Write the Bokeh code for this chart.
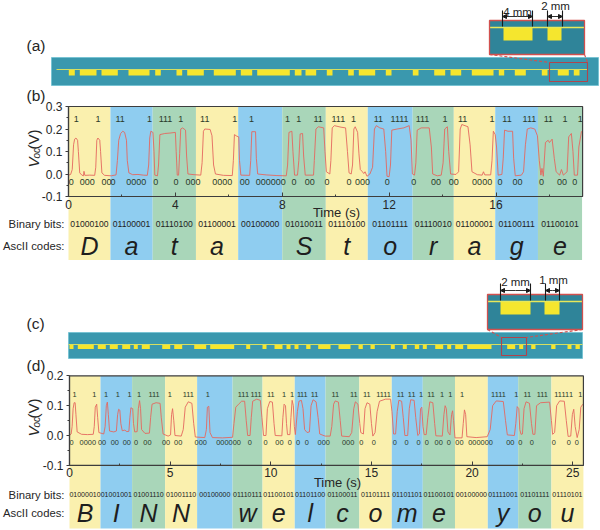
from math import pi
from bokeh.plotting import figure
from bokeh.embed import file_html
from bokeh.resources import INLINE
from bokeh.core.properties import value
from bokeh.models import Range1d, LinearAxis, FixedTicker, Arrow, NormalHead

# ---------- panel (b) data ----------
bands_b = [0, 1.57, 3.15, 4.77, 6.35, 8.0, 9.63, 11.2, 12.88, 14.42, 15.97, 17.57, 19.22]
letters_b = ["D", "a", "t", "a", "", "S", "t", "o", "r", "a", "g", "e"]
bits_b = ["01000100", "01100001", "01110100", "01100001", "00100000", "01010011",
          "01110100", "01101111", "01110010", "01100001", "01100111", "01100101"]
ones_b = [("1", .29), ("1", 1.1), ("11", 1.93), ("1", 3.03), ("111", 3.63), ("1", 4.2), ("11", 5.1),
          ("1", 6.22), ("1", 6.85), ("1", 8.2), ("1", 8.62), ("11", 9.34), ("111", 10.1), ("1", 10.67),
          ("11", 11.6), ("1111", 12.39), ("111", 13.25), ("1", 14.09), ("11", 14.75), ("1", 15.85),
          ("11", 16.41), ("111", 17.25), ("11", 17.96), ("1", 18.58), ("1", 19.15)]
zeros_b = [("0", .1), ("000", .7), ("00", 1.42), ("0", 1.67), ("0000", 2.54), ("0", 3.27), ("0", 4.02),
           ("000", 4.66), ("0000", 5.75), ("00", 6.6), ("000000", 7.57), ("0", 8.44), ("00", 9.03),
           ("0", 9.67), ("0", 10.5), ("000", 11.0), ("0", 11.93), ("0", 12.92), ("00", 13.75),
           ("00", 14.42), ("0000", 15.48), ("0", 16.15), ("00", 16.8), ("0", 17.7), ("00", 18.47), ("0", 18.95)]
trace_b = [(0, -.005), (.08, -.002), (.14, .02), (.19, .13), (.23, .155), (.28, .16), (.34, .15), (.37, .1), (.42, .005),
           (.5, -.005), (.56, -.008), (.58, .012), (.61, -.006), (.8, -.005), (.98, -.006), (1.02, .03), (1.06, .15),
           (1.1, .16), (1.17, .15), (1.2, .1), (1.25, .005), (1.35, -.006), (1.6, -.008), (1.78, -.004), (1.83, .06),
           (1.88, .15), (1.95, .18), (2.03, .19), (2.1, .185), (2.17, .15), (2.2, .06), (2.26, .005), (2.4, -.003),
           (2.6, -.002), (2.8, -.005), (2.95, -.006), (3.0, .04), (3.04, .16), (3.08, .19), (3.16, .185), (3.2, .1),
           (3.23, -.005), (3.33, -.008), (3.37, .04), (3.42, .175), (3.6, .18), (3.8, .182), (4.0, .185), (4.03, .1),
           (4.07, -.005), (4.12, -.005), (4.16, .09), (4.2, .2), (4.27, .205), (4.38, .195), (4.42, .08), (4.47, 0),
           (4.7, -.003), (4.95, -.005), (5.0, .05), (5.05, .19), (5.1, .2), (5.3, .198), (5.37, .17), (5.43, .04),
           (5.5, 0), (5.8, -.006), (6.13, -.007), (6.17, .06), (6.21, .175), (6.3, .168), (6.37, .165), (6.4, .06),
           (6.45, -.005), (6.78, -.006), (6.82, .06), (6.86, .188), (7.0, .188), (7.03, .07), (7.08, 0), (7.4, -.004),
           (7.8, -.007), (8.15, -.008), (8.2, .04), (8.25, .185), (8.36, .19), (8.4, .1), (8.46, -.005), (8.57, -.005),
           (8.62, .06), (8.67, .178), (8.76, .18), (8.8, .08), (8.86, -.005), (9.17, -.005), (9.2, .06), (9.26, .2),
           (9.35, .21), (9.55, .205), (9.6, .1), (9.65, .01), (9.78, .0), (9.82, .06), (9.87, .205), (9.95, .215),
           (10.2, .208), (10.37, .205), (10.44, .1), (10.5, .005), (10.58, .0), (10.63, .04), (10.68, .2), (10.73, .21),
           (10.82, .185), (10.87, .09), (10.92, .02), (11.0, .01), (11.05, .002), (11.1, .01), (11.17, -.01), (11.28, 0),
           (11.38, .03), (11.45, .2), (11.52, .215), (11.65, .205), (11.8, .2), (11.87, .1), (11.92, -.01), (12.0, -.012),
           (12.05, .04), (12.1, .195), (12.3, .2), (12.55, .205), (12.75, .215), (12.82, .15), (12.87, .0), (12.95, -.005),
           (13.0, .05), (13.05, .195), (13.2, .205), (13.5, .205), (13.58, .12), (13.63, .0), (13.8, -.008), (13.95, -.005),
           (14.02, .05), (14.08, .2), (14.18, .21), (14.23, .1), (14.3, 0), (14.5, -.002), (14.6, .01), (14.66, .2),
           (14.72, .22), (14.95, .21), (15.03, .13), (15.1, .01), (15.3, -.003), (15.48, -.005), (15.53, .01), (15.58, -.004),
           (15.8, -.004), (15.85, .06), (15.9, .19), (15.97, .175), (16.02, .12), (16.08, -.005), (16.22, -.002), (16.27, .07),
           (16.32, .195), (16.45, .19), (16.62, .19), (16.66, .07), (16.72, -.008), (16.95, -.005), (17.03, .01), (17.1, .13),
           (17.17, .2), (17.3, .205), (17.45, .2), (17.55, .17), (17.62, .06), (17.68, -.005), (17.72, .025), (17.77, -.01),
           (17.85, .14), (17.95, .15), (18.0, .14), (18.1, .155), (18.18, .07), (18.25, .01), (18.38, -.005), (18.45, .02),
           (18.52, -.005), (18.66, .01), (18.72, .165), (18.82, .18), (18.88, .1), (18.93, -.005), (19.05, -.005), (19.1, .12),
           (19.2, .19)]

# ---------- panel (d) data ----------
bands_d = [0, 1.54, 3.11, 4.75, 6.34, 8.1, 9.59, 11.19, 12.72, 14.4, 16.01, 17.55, 19.15, 20.78, 22.29, 23.94, 25.53]
letters_d = ["B", "I", "N", "N", "", "w", "e", "l", "c", "o", "m", "e", "", "y", "o", "u"]
bits_d = ["01000010", "01001001", "01001110", "01001110", "00100000", "01110111", "01100101", "01101100",
          "01100011", "01101111", "01101101", "01100101", "00100000", "01111001", "01101111", "01110101"]
ones_d = [("1", .25), ("1", 1.23), ("1", 1.82), ("1", 2.4), ("1", 2.98), ("1", 3.45), ("111", 4.2), ("1", 4.98),
          ("111", 5.9), ("1", 6.87), ("111", 8.64), ("111", 9.27), ("11", 10.0), ("1", 10.66), ("1", 11.06),
          ("1", 11.4), ("11", 11.64), ("11", 12.17), ("11", 13.2), ("11", 14.12), ("11", 14.77), ("1111", 15.6),
          ("11", 16.45), ("11", 17.0), ("1", 17.47), ("11", 17.96), ("1", 18.51), ("1", 18.92), ("1", 19.5),
          ("1111", 21.31), ("1", 22.2), ("11", 22.74), ("111", 23.49), ("1111", 24.45), ("1", 24.92), ("1", 25.38)]
zeros_d = [("0", .1), ("0000", .91), ("00", 1.62), ("00", 2.25), ("00", 2.85), ("0", 3.31), ("00", 3.87),
           ("00", 4.8), ("00", 5.4), ("000", 6.52), ("000000", 7.9), ("0", 8.96), ("0", 9.74), ("00", 10.43),
           ("0", 10.95), ("0", 11.36), ("0", 11.79), ("000", 12.63), ("000", 13.84), ("0", 14.5), ("0", 15.12),
           ("0", 16.16), ("0", 16.74), ("0", 17.34), ("0", 17.75), ("00", 18.34), ("0", 18.84), ("00", 19.37),
           ("000000", 20.42), ("00", 21.9), ("0", 22.4), ("0", 22.96), ("0", 24.06), ("0", 24.8), ("0", 25.2)]
trace_d = [(0, 0), (.08, .005), (.13, .03), (.18, .09), (.23, .11), (.28, .11), (.32, .07), (.38, .012), (.6, .004),
           (.9, .003), (1.18, .004), (1.23, .03), (1.28, .095), (1.35, .105), (1.4, .06), (1.46, .01), (1.7, .005),
           (1.77, .03), (1.83, .1), (1.88, .112), (1.93, .07), (1.99, .015), (2.2, .012), (2.33, .015), (2.39, .07),
           (2.44, .088), (2.5, .085), (2.55, .04), (2.62, .016), (2.75, .018), (2.85, .013), (2.95, .014), (3.0, .06),
           (3.05, .093), (3.14, .09), (3.18, .04), (3.24, .012), (3.36, .013), (3.42, .09), (3.48, .117), (3.53, .09),
           (3.58, .02), (3.75, .007), (3.97, .008), (4.03, .06), (4.1, .105), (4.3, .11), (4.5, .108), (4.56, .06),
           (4.65, .005), (4.9, -.002), (5.02, .002), (5.07, .07), (5.12, .09), (5.18, .05), (5.24, 0), (5.55, -.002),
           (5.65, .02), (5.75, .095), (5.9, .113), (6.08, .108), (6.17, .04), (6.25, -.005), (6.72, -.007), (6.8, .02),
           (6.85, .095), (6.92, .098), (6.98, .01), (7.1, -.007), (7.6, -.008), (8.1, -.006), (8.17, .04), (8.26, .095),
           (8.4, .105), (8.55, .115), (8.7, .115), (8.78, .05), (8.85, .0), (8.97, .0), (9.03, .06), (9.1, .115),
           (9.3, .122), (9.48, .118), (9.56, .06), (9.64, .0), (9.76, .0), (9.83, .09), (9.95, .114), (10.08, .112),
           (10.16, .04), (10.22, 0), (10.55, -.001), (10.6, .06), (10.66, .105), (10.73, .1), (10.78, .04), (10.83, .003),
           (10.95, .003), (11.0, .06), (11.06, .118), (11.12, .1), (11.17, .03), (11.22, .003), (11.32, .08), (11.4, .115),
           (11.52, .118), (11.6, .09), (11.68, .02), (11.8, .01), (11.92, .012), (12.0, .1), (12.1, .12), (12.25, .113),
           (12.35, .06), (12.43, .005), (12.7, -.002), (12.95, -.002), (13.03, .03), (13.12, .105), (13.2, .116), (13.36, .112),
           (13.45, .05), (13.52, -.002), (13.9, -.004), (14.02, .01), (14.12, .09), (14.2, .113), (14.33, .105), (14.42, .04),
           (14.47, .01), (14.6, .005), (14.68, .09), (14.78, .11), (14.92, .105), (15.0, .04), (15.07, -.002), (15.18, .01),
           (15.28, .08), (15.4, .115), (15.7, .122), (15.95, .122), (16.02, .08), (16.1, .005), (16.2, .005), (16.28, .08),
           (16.36, .118), (16.5, .115), (16.58, .06), (16.66, .0), (16.8, .0), (16.88, .09), (16.95, .12), (17.12, .118),
           (17.2, .06), (17.3, 0), (17.38, .005), (17.44, .09), (17.5, .095), (17.56, .03), (17.62, .003), (17.72, .003),
           (17.8, .06), (17.9, .113), (18.05, .11), (18.14, .04), (18.2, -.001), (18.52, -.002), (18.6, .07), (18.66, .1),
           (18.72, .09), (18.8, .012), (18.9, .002), (18.98, .07), (19.03, .083), (19.08, .05), (19.15, -.008), (19.5, -.008),
           (19.56, .04), (19.62, .086), (19.68, .07), (19.74, -.004), (20.2, -.007), (20.75, -.004), (20.9, .02), (21.02, .1),
           (21.2, .116), (21.55, .114), (21.66, .05), (21.75, .002), (22.1, 0), (22.17, .04), (22.24, .097), (22.32, .09),
           (22.37, .02), (22.43, .004), (22.5, .005), (22.58, .09), (22.68, .113), (22.85, .108), (22.95, .04), (23.02, .004),
           (23.12, .004), (23.2, .1), (23.4, .11), (23.85, .112), (23.94, .05), (24.0, .004), (24.1, .01), (24.2, .1),
           (24.35, .116), (24.58, .115), (24.68, .05), (24.77, -.003), (24.9, -.002), (24.98, .07), (25.05, .088), (25.12, .03),
           (25.22, -.007), (25.32, .02), (25.4, .095), (25.5, .105)]

# ---------- schematic strips: yellow electrode extents along each film ----------
blocks_a = [(68.3, 74.3), (79.3, 96), (101, 117.3), (128, 149), (154.7, 160.3), (176, 181.7), (186.7, 203.3),
            (213.3, 235.3), (240.3, 251.7), (256.7, 289.3), (294.3, 301), (305, 315.7), (326.3, 332), (347.7, 353.3),
            (358.3, 374.7), (385.3, 391), (412.3, 418), (433.7, 444.7), (450, 460.7), (471.3, 493), (498.3, 503.7),
            (514.3, 525.3), (541.3, 547), (557.3, 568.3), (573.3, 579)]
blocks_c = [(69, 73), (77.3, 93.3), (97.3, 105.3), (109.3, 117.3), (121.7, 129.7), (133.3, 137.3), (141.3, 149.3),
            (161.7, 169.7), (173.7, 181.7), (193.7, 205.7), (209.7, 233.7), (245.7, 249.7), (262, 266), (274, 282),
            (286, 290), (294, 298), (305.7, 310), (317.7, 330), (338, 350), (358, 362.3), (370, 374.3), (390.3, 394.3),
            (402.3, 406.3), (414.3, 418.7), (422.3, 426.3), (434.7, 442.7), (446.7, 450.7), (454.7, 462.7), (466.7, 491),
            (506.7, 514.7), (518.7, 522.7), (530.7, 535), (550.7, 555), (567, 571), (575, 579.3)]

YELLOW, BLUE, GREEN = "#FAF0AE", "#8FCDF0", "#A9D6B9"
TEAL, TEAL_D, GOLD, RED, INK, TRACE = "#3A98AE", "#2F8499", "#F5E62E", "#D2504E", "#262626", "#E4685F"
FONT = value("Liberation Sans")

p = figure(width=600, height=530, x_range=Range1d(0, 600), y_range=Range1d(530, 0), output_backend="svg",
           toolbar_location=None, min_border=0, x_axis_type=None, y_axis_type=None, outline_line_color=None)
p.grid.visible = False


def note(x, y, s, size, align="center", base="middle", style="normal", angle=0.0, color=INK, **kw):
    p.text([x], [y], text=[s], text_font=FONT, text_font_size=f"{size}px", text_align=align, text_baseline=base,
           text_font_style=style, angle=angle, text_color=color, **kw)


def panel(name, px0, px_per_x, py0, py_per_y, bands, letters, bits, ones, zeros, trace, y_top, y_bot, xmax, ticks, minors,
          yticks, yminors, band_bottom_px, one_v, zero_v, small, bit_size, bit_y, letter_y, time_xy):
    xr, yr = name + "x", name + "y"
    p.extra_x_ranges[xr] = Range1d((0 - px0) / px_per_x, (600 - px0) / px_per_x)
    p.extra_y_ranges[yr] = Range1d((py0 - 530) / py_per_y, (py0 - 0) / py_per_y)
    bottom = (py0 - band_bottom_px) / py_per_y
    cols = [[YELLOW, BLUE, GREEN][i % 3] for i in range(len(letters))]
    p.quad(left=bands[:-1], right=bands[1:], top=[y_top] * len(letters), bottom=[bottom] * len(letters), fill_color=cols,
           line_color=None, x_range_name=xr, y_range_name=yr)
    ts, vs = zip(*trace)
    p.line(list(ts), list(vs), line_color=TRACE, line_width=0.9, x_range_name=xr, y_range_name=yr)
    p.quad(left=[0], right=[xmax], top=[y_top], bottom=[y_bot], fill_color=None, line_color="#3D3D3D", line_width=1.2,
           x_range_name=xr, y_range_name=yr)
    mids = [(a + b) / 2 for a, b in zip(bands[:-1], bands[1:])]
    common = dict(text_font=FONT, text_align="center", text_baseline="middle", x_range_name=xr, y_range_name=yr)
    p.text(mids, [bit_y] * len(mids), text=bits, text_font_size=f"{bit_size}px", text_color="#222222", **common)
    p.text(mids, [letter_y] * len(mids), text=letters, text_font_size="25px", text_font_style="italic", text_color="#1E1E1E", **common)
    p.text([t for _, t in ones], [one_v] * len(ones), text=[s for s, _ in ones], text_font_size=f"{small}px", text_color="#2A3A2A", **common)
    p.text([t for _, t in zeros], [zero_v] * len(zeros), text=[s for s, _ in zeros], text_font_size=f"{small}px", text_color="#2A3A2A", **common)
    ax = LinearAxis(x_range_name=xr, y_range_name=yr, fixed_location=y_bot, bounds=(0, xmax),
                    ticker=FixedTicker(ticks=ticks, minor_ticks=minors))
    ax.major_tick_in, ax.major_tick_out, ax.minor_tick_in, ax.minor_tick_out = 4, 0, 2, 0
    ay = LinearAxis(x_range_name=xr, y_range_name=yr, fixed_location=0, bounds=(y_bot, y_top),
                    ticker=FixedTicker(ticks=yticks, minor_ticks=yminors))
    ay.major_tick_in, ay.major_tick_out, ay.minor_tick_in, ay.minor_tick_out = 0, 3, 0, 2
    ay.major_label_overrides = {t: f"{t:.1f}" for t in yticks}
    for a in (ax, ay):
        a.axis_line_color = a.major_tick_line_color = a.minor_tick_line_color = "#3D3D3D"
        a.axis_line_width = 1.2
        a.major_label_text_font = "Liberation Sans"
        a.major_label_text_font_size = "12px"
        a.major_label_text_color = INK
    ax.major_label_standoff = 3
    ay.major_label_standoff = 3
    p.add_layout(ax, "below")
    p.add_layout(ay, "left")
    note(time_xy[0], time_xy[1], "Time (s)", 13)
    # row captions and the rotated y title, sitting in the page's margin
    note(64, py0 - bit_y * py_per_y, "Binary bits:", 11.3, align="right")
    note(64, py0 - letter_y * py_per_y, "AscII codes:", 11.3, align="right")
    cy = (py0 - y_top * py_per_y + py0 - y_bot * py_per_y) / 2
    note(33, cy + 16, "V", 15, align="left", base="alphabetic", style="italic", angle=pi / 2)
    note(36, cy + 7, "oc", 10, align="left", base="alphabetic", style="italic", angle=pi / 2)
    note(33, cy - 2, "(V)", 15, align="left", base="alphabetic", angle=pi / 2)


def film(x0, x1, y0, y1, yline, yblock, blocks, line_from, line_to, inset, zoom, dims):
    p.quad(left=[x0], right=[x1], top=[y0], bottom=[y1], fill_color=TEAL, line_color="#6FC0D2", line_width=0.8)
    p.quad(left=[b[0] for b in blocks], right=[b[1] for b in blocks], top=[yline] * len(blocks), bottom=[yblock] * len(blocks),
           fill_color=GOLD, line_color=None)
    p.line([line_from, line_to], [yline, yline], line_color="#D6DF5F", line_width=1)
    ix0, ix1, iy0, iy1, iline, iblock, iblocks = inset
    p.quad(left=[ix0], right=[ix1], top=[iy0], bottom=[iy1], fill_color=TEAL_D, line_color=None)
    p.quad(left=[b[0] for b in iblocks], right=[b[1] for b in iblocks], top=[iline] * 2, bottom=[iblock] * 2, fill_color=GOLD, line_color=None)
    p.line([ix0, ix1], [iline, iline], line_color="#E8E85A", line_width=1.5)
    p.quad(left=[ix0], right=[ix1], top=[iy0], bottom=[iy1], fill_color=None, line_color=RED, line_width=1.3)
    zx0, zx1, zy0, zy1 = zoom
    p.quad(left=[zx0], right=[zx1], top=[zy0], bottom=[zy1], fill_color=None, line_color="#B0444C", line_width=1.1)
    p.line([ix0, zx0], [iy1, zy0], line_color=RED, line_width=1.1, line_dash="3 2")
    p.line([ix1, zx1], [iy1, zy0], line_color=RED, line_width=1.1, line_dash="3 2")
    for (a, b, top, low, ya, label, lx, ly) in dims:
        p.segment([a, b], [top, top], [a, b], [low, low], line_color="#1A1A1A", line_width=1.1)
        for s, e in ((a + (b - a) / 2, a), (a + (b - a) / 2, b)):
            p.add_layout(Arrow(end=NormalHead(size=4, fill_color="#1A1A1A", line_color="#1A1A1A"), x_start=s, x_end=e,
                               y_start=ya, y_end=ya, line_color="#1A1A1A", line_width=0.9))
        note(lx, ly, label, 11.5, color="#222222")


film(51, 598, 57, 85, 69, 75, blocks_a, 56, 587,
     (489, 584, 20, 54, 27, 40, [(503, 532), (547, 561)]), (549, 587, 62, 81),
     [(502, 532, 10, 26, 16, "4 mm", 517, 11), (547, 562, 10, 26, 16, "2 mm", 555, 5)])
film(68, 582, 332, 358, 344, 348.5, blocks_c, 68, 582,
     (487, 582, 294, 329, 301, 314, [(500, 530), (544, 559)]), (501, 526, 337, 355),
     [(500, 530, 283, 300, 290, "2 mm", 515, 281), (545, 559, 283, 300, 290, "1 mm", 553, 279)])

panel("b", 68, 26.72, 173.5, 225, bands_b, letters_b, bits_b, ones_b, zeros_b, trace_b, .3, -.1, 19.24,
      [0, 4, 8, 12, 16], [2, 6, 10, 14, 18], [-.1, 0, .1, .2, .3], [-.05, .05, .15, .25], 259.5, .246, -.036, 9, 8.6,
      -.2205, -.32, (336, 212))
panel("d", 69, 20.13, 435, 298, bands_d, letters_d, bits_d, ones_d, zeros_d, trace_d, .2, -.1, 25.53,
      [0, 5, 10, 15, 20, 25], [2.5, 7.5, 12.5, 17.5, 22.5], [-.1, 0, .1, .2], [-.05, .05, .15], 528, .136, -.024, 7.4, 7,
      -.1985, -.2585, (337, 482))

for s, y in (("(a)", 45), ("(b)", 95), ("(c)", 323), ("(d)", 365)):
    note(26, y, s, 15.5, align="left")

open("out.html", "w").write(file_html(p, INLINE))
